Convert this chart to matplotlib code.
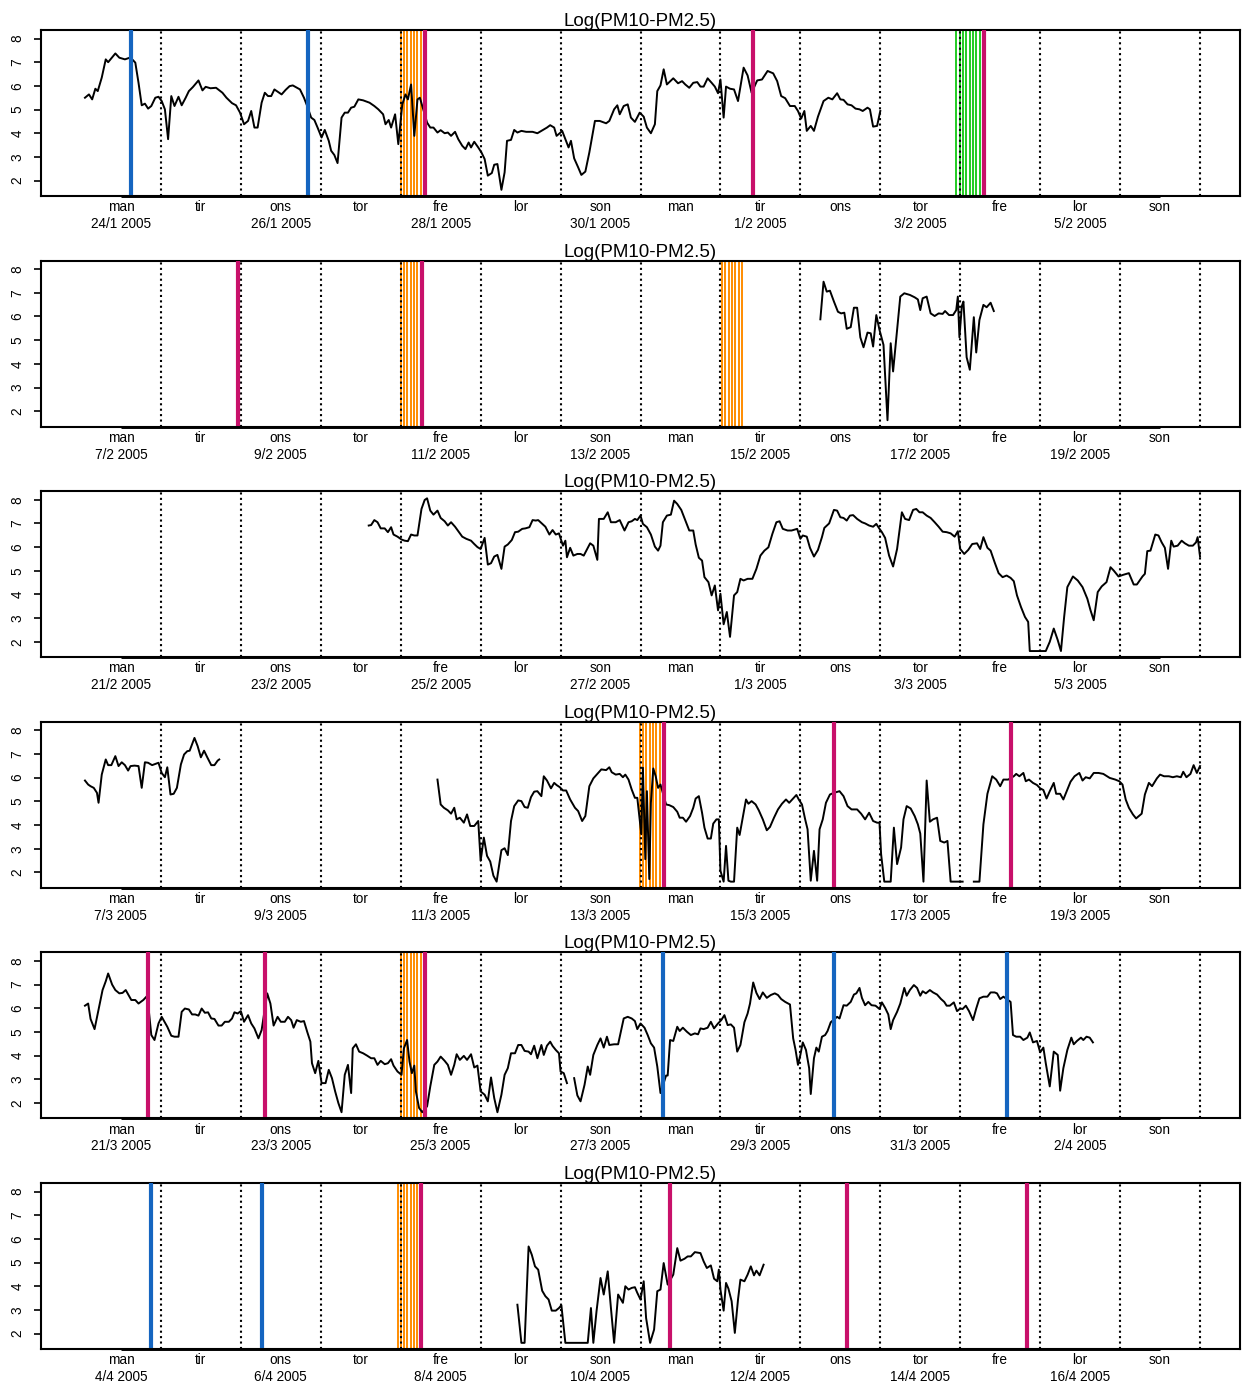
import numpy as np
import matplotlib
matplotlib.use('Agg')
import matplotlib.pyplot as plt

plt.rcParams['font.family'] = ['Liberation Sans', 'DejaVu Sans']

day_names = ['man', 'tir', 'ons', 'tor', 'fre', 'lor', 'son'] * 2
date_labels = [
    ['24/1 2005', '26/1 2005', '28/1 2005', '30/1 2005', '1/2 2005', '3/2 2005', '5/2 2005'],
    ['7/2 2005', '9/2 2005', '11/2 2005', '13/2 2005', '15/2 2005', '17/2 2005', '19/2 2005'],
    ['21/2 2005', '23/2 2005', '25/2 2005', '27/2 2005', '1/3 2005', '3/3 2005', '5/3 2005'],
    ['7/3 2005', '9/3 2005', '11/3 2005', '13/3 2005', '15/3 2005', '17/3 2005', '19/3 2005'],
    ['21/3 2005', '23/3 2005', '25/3 2005', '27/3 2005', '29/3 2005', '31/3 2005', '2/4 2005'],
    ['4/4 2005', '6/4 2005', '8/4 2005', '10/4 2005', '12/4 2005', '14/4 2005', '16/4 2005'],
]

# (day, log(PM10-PM2.5)); day k is labelled at x=k, midnight falls on k+0.5
# (None, None) marks a gap in the record
obs_24jan = [
    (0.55, 5.50), (0.60, 5.64), (0.64, 5.43), (0.68, 5.88), (0.71, 5.78), (0.76, 6.35), (0.81, 7.12),
    (0.84, 7.00), (0.93, 7.37), (0.98, 7.19), (1.05, 7.12), (1.11, 7.19), (1.15, 7.09), (1.18, 6.98),
    (1.22, 6.13), (1.26, 5.18), (1.30, 5.25), (1.34, 5.04), (1.38, 5.15), (1.43, 5.50), (1.47, 5.54),
    (1.51, 5.36), (1.55, 5.01), (1.59, 3.75), (1.63, 5.57), (1.67, 5.15), (1.72, 5.54), (1.76, 5.18),
    (1.81, 5.50), (1.85, 5.78), (1.90, 5.95), (1.97, 6.23), (2.02, 5.81), (2.06, 5.96), (2.12, 5.90),
    (2.19, 5.92), (2.27, 5.71), (2.32, 5.50), (2.39, 5.27), (2.44, 5.18), (2.49, 4.87), (2.54, 4.38),
    (2.59, 4.52), (2.63, 4.94), (2.67, 4.24), (2.71, 4.24), (2.76, 5.29), (2.80, 5.71), (2.84, 5.57),
    (2.88, 5.57), (2.92, 5.85), (3.01, 5.64), (3.06, 5.83), (3.11, 5.99), (3.15, 6.02), (3.24, 5.85),
    (3.29, 5.50), (3.33, 5.15), (3.38, 4.66), (3.42, 4.56), (3.46, 4.24), (3.51, 3.82), (3.55, 4.14),
    (3.60, 3.68), (3.63, 3.26), (3.67, 3.08), (3.71, 2.74), (3.76, 4.66), (3.80, 4.87), (3.84, 4.87),
    (3.88, 5.08), (3.92, 5.12), (3.97, 5.43), (4.03, 5.39), (4.11, 5.29), (4.17, 5.15), (4.22, 5.01),
    (4.28, 4.80), (4.31, 4.38), (4.35, 4.56), (4.38, 4.24), (4.43, 4.80), (4.47, 3.54), (4.52, 5.22),
    (4.56, 5.64), (4.59, 5.43), (4.63, 6.06), (4.67, 3.89), (4.71, 5.43), (4.74, 5.50), (4.83, 4.45),
    (4.87, 4.24), (4.91, 4.24), (4.96, 4.03), (5.00, 4.13), (5.05, 4.00), (5.09, 4.03), (5.13, 3.89),
    (5.18, 4.06), (5.22, 3.75), (5.27, 3.47), (5.31, 3.33), (5.35, 3.61), (5.38, 3.40), (5.42, 3.64),
    (5.47, 3.40), (5.51, 3.19), (5.55, 2.91), (5.59, 2.21), (5.64, 2.32), (5.67, 2.67), (5.71, 2.70),
    (5.76, 1.61), (5.80, 2.35), (5.83, 3.68), (5.88, 3.72), (5.92, 4.14), (5.96, 4.03), (6.01, 4.10),
    (6.07, 4.06), (6.15, 4.06), (6.21, 4.00), (6.28, 4.14), (6.33, 4.24), (6.37, 4.34), (6.42, 4.24),
    (6.45, 3.89), (6.49, 4.00), (6.52, 4.10), (6.56, 3.75), (6.60, 3.40), (6.63, 3.68), (6.67, 2.94),
    (6.72, 2.56), (6.76, 2.24), (6.81, 2.38), (6.86, 3.19), (6.93, 4.52), (6.99, 4.52), (7.07, 4.42),
    (7.11, 4.52), (7.17, 5.01), (7.21, 5.18), (7.24, 4.80), (7.29, 5.15), (7.34, 5.22), (7.38, 4.66),
    (7.43, 4.48), (7.49, 4.87), (7.54, 4.70), (7.58, 4.24), (7.63, 4.00), (7.68, 4.38), (7.71, 5.78),
    (7.75, 6.02), (7.79, 6.70), (7.83, 6.06), (7.91, 6.32), (7.97, 6.11), (8.02, 6.20), (8.06, 6.06),
    (8.11, 5.92), (8.16, 6.13), (8.21, 6.16), (8.25, 5.97), (8.29, 5.97), (8.34, 6.32), (8.39, 6.13),
    (8.43, 5.97), (8.47, 5.69), (8.50, 6.27), (8.54, 4.66), (8.57, 5.97), (8.62, 5.88), (8.67, 5.85),
    (8.72, 5.36), (8.79, 6.77), (8.84, 6.44), (8.89, 5.71), (8.96, 6.23), (9.02, 6.27), (9.09, 6.63),
    (9.16, 6.53), (9.21, 6.20), (9.26, 5.57), (9.31, 5.48), (9.37, 5.15), (9.43, 5.15), (9.47, 4.94),
    (9.51, 4.62), (9.55, 4.94), (9.58, 4.10), (9.63, 4.31), (9.67, 4.10), (9.72, 4.70), (9.79, 5.36),
    (9.85, 5.50), (9.90, 5.43), (9.96, 5.69), (10.00, 5.43), (10.04, 5.41), (10.09, 5.22), (10.14, 5.18),
    (10.19, 5.04), (10.24, 5.01), (10.28, 4.94), (10.34, 5.08), (10.37, 5.01), (10.41, 4.28),
    (10.46, 4.31), (10.50, 4.94),
]

obs_7feb = [
    (9.75, 5.88), (9.79, 7.47), (9.83, 7.05), (9.87, 7.09), (9.92, 6.63), (9.97, 6.20), (10.01, 6.13),
    (10.05, 6.16), (10.08, 5.48), (10.13, 5.55), (10.17, 6.37), (10.21, 6.37), (10.25, 5.12),
    (10.29, 4.70), (10.34, 5.32), (10.38, 5.29), (10.41, 4.73), (10.45, 6.06), (10.49, 5.43),
    (10.54, 4.80), (10.59, 1.62), (10.63, 4.87), (10.66, 3.68), (10.71, 5.43), (10.75, 6.84),
    (10.80, 6.98), (10.87, 6.91), (10.93, 6.81), (10.97, 6.72), (11.00, 6.27), (11.03, 6.77),
    (11.08, 6.84), (11.13, 6.13), (11.18, 6.02), (11.23, 6.13), (11.28, 6.11), (11.31, 6.23),
    (11.36, 6.06), (11.41, 6.06), (11.45, 6.27), (11.47, 6.84), (11.49, 5.12), (11.52, 6.44),
    (11.54, 6.63), (11.58, 4.28), (11.62, 3.75), (11.67, 5.97), (11.70, 4.48), (11.74, 5.85),
    (11.79, 6.49), (11.83, 6.39), (11.88, 6.58), (11.92, 6.23),
]

obs_21feb = [
    (4.10, 6.91), (4.13, 6.93), (4.17, 7.14), (4.21, 7.05), (4.25, 6.79), (4.30, 6.79), (4.34, 6.63),
    (4.38, 6.84), (4.41, 6.53), (4.46, 6.44), (4.51, 6.32), (4.55, 6.27), (4.59, 6.25), (4.63, 6.53),
    (4.67, 6.49), (4.71, 6.49), (4.76, 7.61), (4.80, 7.99), (4.83, 8.06), (4.87, 7.54), (4.91, 7.37),
    (4.96, 7.54), (5.00, 7.23), (5.05, 7.09), (5.09, 6.91), (5.13, 7.05), (5.18, 6.86), (5.23, 6.63),
    (5.27, 6.44), (5.32, 6.35), (5.38, 6.27), (5.42, 6.13), (5.46, 6.00), (5.50, 5.92), (5.55, 6.39),
    (5.59, 5.26), (5.63, 5.32), (5.67, 5.60), (5.71, 5.67), (5.76, 5.08), (5.80, 6.02), (5.84, 6.11),
    (5.89, 6.30), (5.93, 6.63), (5.97, 6.65), (6.02, 6.77), (6.06, 6.79), (6.11, 6.84), (6.15, 7.14),
    (6.19, 7.12), (6.22, 7.14), (6.28, 6.95), (6.31, 6.86), (6.36, 6.53), (6.40, 6.72), (6.44, 6.53),
    (6.48, 6.58), (6.53, 6.06), (6.56, 6.27), (6.58, 5.57), (6.62, 5.97), (6.66, 5.64), (6.71, 5.71),
    (6.75, 5.71), (6.79, 5.64), (6.84, 5.97), (6.87, 6.16), (6.91, 6.06), (6.96, 5.46), (6.98, 7.19),
    (7.04, 7.19), (7.09, 7.47), (7.13, 7.05), (7.19, 7.05), (7.24, 7.14), (7.30, 6.70), (7.35, 7.05),
    (7.39, 7.09), (7.43, 7.19), (7.46, 7.14), (7.50, 7.33), (7.53, 6.98), (7.58, 6.84), (7.63, 6.53),
    (7.68, 6.02), (7.72, 5.85), (7.75, 6.06), (7.78, 7.05), (7.83, 7.33), (7.88, 7.37), (7.92, 7.96),
    (7.96, 7.82), (8.01, 7.57), (8.06, 7.14), (8.11, 6.70), (8.16, 6.70), (8.19, 6.11), (8.23, 5.55),
    (8.27, 5.43), (8.30, 4.73), (8.35, 4.52), (8.39, 3.96), (8.43, 4.38), (8.47, 3.33), (8.50, 4.03),
    (8.54, 2.74), (8.58, 3.26), (8.62, 2.21), (8.67, 3.96), (8.71, 4.10), (8.75, 4.66), (8.79, 4.59),
    (8.84, 4.66), (8.90, 4.66), (8.95, 5.08), (9.00, 5.64), (9.05, 5.85), (9.10, 5.99), (9.15, 6.56),
    (9.20, 7.05), (9.24, 7.09), (9.28, 6.77), (9.34, 6.70), (9.39, 6.70), (9.46, 6.77), (9.50, 6.35),
    (9.53, 6.49), (9.58, 6.44), (9.62, 5.97), (9.67, 5.60), (9.72, 5.88), (9.77, 6.42), (9.80, 6.81),
    (9.86, 7.00), (9.92, 7.57), (9.96, 7.54), (10.00, 7.26), (10.04, 7.23), (10.08, 7.12),
    (10.12, 7.33), (10.16, 7.35), (10.21, 7.19), (10.27, 7.05), (10.31, 7.00), (10.36, 6.91),
    (10.41, 6.86), (10.45, 6.98), (10.49, 6.77), (10.52, 6.63), (10.56, 6.39), (10.61, 5.64),
    (10.66, 5.18), (10.71, 5.92), (10.77, 7.47), (10.81, 7.19), (10.86, 7.14), (10.91, 7.57),
    (10.95, 7.61), (10.99, 7.47), (11.03, 7.47), (11.08, 7.33), (11.13, 7.23), (11.18, 7.05),
    (11.23, 6.86), (11.28, 6.65), (11.33, 6.63), (11.38, 6.58), (11.43, 6.44), (11.47, 6.67),
    (11.50, 5.92), (11.55, 5.71), (11.60, 5.88), (11.65, 6.13), (11.71, 6.16), (11.75, 5.92),
    (11.79, 6.42), (11.84, 5.97), (11.88, 5.85), (11.93, 5.36), (11.98, 4.90), (12.03, 4.73),
    (12.08, 4.80), (12.13, 4.70), (12.17, 4.56), (12.21, 3.96), (12.26, 3.47), (12.31, 3.05),
    (12.35, 2.84), (12.37, 1.61), (12.57, 1.61), (12.62, 2.00), (12.67, 2.56), (12.72, 2.07),
    (12.76, 1.61), (12.80, 3.05), (12.84, 4.31), (12.91, 4.76), (12.97, 4.59), (13.03, 4.31),
    (13.09, 3.82), (13.13, 3.33), (13.17, 2.91), (13.22, 4.10), (13.27, 4.34), (13.33, 4.52),
    (13.38, 5.15), (13.42, 5.01), (13.48, 4.76), (13.54, 4.83), (13.61, 4.90), (13.67, 4.42),
    (13.71, 4.42), (13.78, 4.76), (13.81, 4.87), (13.84, 5.83), (13.88, 5.85), (13.94, 6.53),
    (13.98, 6.49), (14.02, 6.20), (14.06, 5.97), (14.10, 5.08), (14.14, 6.27), (14.17, 6.02),
    (14.22, 6.06), (14.27, 6.27), (14.31, 6.16), (14.36, 6.06), (14.41, 6.06), (14.45, 6.20),
    (14.47, 6.42), (14.50, 5.60),
]

obs_7mar = [
    (0.55, 5.88), (0.59, 5.71), (0.62, 5.64), (0.66, 5.57), (0.70, 5.36), (0.72, 4.94), (0.76, 6.13),
    (0.81, 6.77), (0.84, 6.53), (0.88, 6.53), (0.93, 6.91), (0.97, 6.49), (1.01, 6.65), (1.05, 6.53),
    (1.09, 6.30), (1.12, 6.49), (1.17, 6.51), (1.22, 6.49), (1.26, 5.57), (1.30, 6.65), (1.34, 6.63),
    (1.39, 6.53), (1.43, 6.58), (1.47, 6.63), (1.51, 6.20), (1.55, 6.02), (1.58, 6.44), (1.62, 5.29),
    (1.66, 5.32), (1.70, 5.57), (1.75, 6.56), (1.79, 6.98), (1.83, 7.12), (1.86, 7.14), (1.92, 7.68),
    (1.96, 7.33), (2.00, 6.86), (2.04, 7.14), (2.08, 6.86), (2.13, 6.53), (2.17, 6.53), (2.21, 6.72),
    (2.23, 6.77), (None, None),
    (4.96, 5.92), (5.00, 4.87), (5.04, 4.73), (5.09, 4.62), (5.13, 4.48), (5.17, 4.73), (5.20, 4.24),
    (5.24, 4.31), (5.29, 4.10), (5.33, 4.45), (5.37, 3.96), (5.42, 3.96), (5.47, 4.17), (5.50, 2.49),
    (5.54, 3.47), (5.58, 2.70), (5.62, 2.46), (5.66, 1.86), (5.70, 1.61), (5.76, 2.94), (5.80, 3.02),
    (5.84, 2.73), (5.88, 4.17), (5.92, 4.80), (5.97, 5.04), (6.01, 5.01), (6.05, 4.76), (6.09, 4.73),
    (6.13, 5.18), (6.17, 5.41), (6.21, 5.43), (6.26, 5.22), (6.29, 6.06), (6.33, 5.88), (6.38, 5.55),
    (6.42, 5.78), (6.45, 5.69), (6.49, 5.60), (6.53, 5.46), (6.57, 5.46), (6.62, 5.08), (6.68, 4.73),
    (6.72, 4.59), (6.77, 4.17), (6.81, 4.38), (6.86, 5.64), (6.91, 5.97), (6.96, 6.16), (7.01, 6.35),
    (7.07, 6.32), (7.11, 6.44), (7.14, 6.23), (7.19, 6.13), (7.24, 6.16), (7.28, 6.02), (7.31, 6.13),
    (7.35, 5.92), (7.39, 5.50), (7.43, 5.15), (7.46, 5.15), (7.49, 4.24), (7.51, 3.61), (7.53, 6.42),
    (7.56, 2.56), (7.58, 5.43), (7.61, 1.72), (7.63, 4.94), (7.66, 6.39), (7.69, 6.06), (7.72, 5.57),
    (7.75, 5.71), (7.82, 4.87), (7.86, 4.84), (7.91, 4.76), (7.96, 4.56), (7.99, 4.31), (8.03, 4.31),
    (8.07, 4.14), (8.12, 4.38), (8.16, 4.73), (8.19, 5.12), (8.23, 5.22), (8.27, 4.52), (8.30, 3.89),
    (8.34, 3.43), (8.38, 3.43), (8.41, 4.06), (8.45, 4.24), (8.48, 4.24), (8.50, 2.07), (8.54, 1.61),
    (8.57, 3.12), (8.60, 1.65), (8.63, 1.61), (8.67, 1.61), (8.71, 3.89), (8.74, 3.58), (8.78, 4.34),
    (8.82, 5.08), (8.85, 4.90), (8.89, 5.01), (8.94, 4.87), (8.98, 4.62), (9.03, 4.24), (9.08, 3.78),
    (9.12, 3.92), (9.17, 4.31), (9.22, 4.66), (9.27, 4.90), (9.32, 5.08), (9.36, 4.94), (9.41, 5.12),
    (9.45, 5.27), (9.48, 5.08), (9.52, 4.87), (9.56, 4.24), (9.59, 3.82), (9.63, 1.65), (9.67, 2.91),
    (9.71, 1.65), (9.74, 3.82), (9.78, 4.24), (9.82, 4.94), (9.87, 5.29), (9.92, 5.36), (9.99, 5.43),
    (10.04, 5.22), (10.09, 4.80), (10.14, 4.66), (10.21, 4.66), (10.26, 4.48), (10.31, 4.24),
    (10.36, 4.52), (10.41, 4.17), (10.46, 4.10), (10.49, 4.10), (10.51, 2.77), (10.55, 1.61),
    (10.63, 1.61), (10.67, 3.89), (10.71, 2.35), (10.76, 3.05), (10.79, 4.24), (10.83, 4.80),
    (10.88, 4.70), (10.93, 4.38), (10.97, 4.03), (11.00, 3.64), (11.04, 1.61), (11.08, 5.88),
    (11.12, 4.14), (11.16, 4.24), (11.21, 4.31), (11.25, 3.33), (11.30, 3.26), (11.34, 3.33),
    (11.38, 1.61), (11.53, 1.61), (None, None),
    (11.67, 1.61), (11.74, 1.61), (11.79, 4.03), (11.84, 5.32), (11.90, 6.06), (11.95, 5.92),
    (12.00, 5.64), (12.04, 5.92), (12.10, 5.92), (12.17, 6.06), (12.20, 6.16), (12.24, 6.06),
    (12.29, 6.20), (12.32, 5.85), (12.36, 5.92), (12.41, 5.78), (12.46, 5.69), (12.50, 5.55),
    (12.54, 5.48), (12.58, 5.12), (12.62, 5.43), (12.67, 5.78), (12.70, 5.32), (12.75, 5.32),
    (12.79, 5.08), (12.84, 5.50), (12.88, 5.83), (12.93, 6.06), (12.99, 6.20), (13.03, 5.88),
    (13.07, 6.02), (13.12, 5.97), (13.17, 6.20), (13.23, 6.20), (13.29, 6.16), (13.37, 5.99),
    (13.44, 5.92), (13.49, 5.85), (13.53, 5.71), (13.57, 5.08), (13.61, 4.73), (13.66, 4.45),
    (13.70, 4.28), (13.77, 4.48), (13.81, 5.29), (13.86, 5.78), (13.90, 5.64), (13.96, 5.97),
    (14.00, 6.13), (14.05, 6.06), (14.11, 6.06), (14.16, 6.02), (14.21, 6.06), (14.26, 6.02),
    (14.29, 6.25), (14.33, 6.02), (14.38, 6.16), (14.42, 6.53), (14.46, 6.20), (14.50, 6.49),
]

obs_21mar = [
    (0.55, 6.11), (0.59, 6.20), (0.62, 5.55), (0.67, 5.12), (0.71, 5.78), (0.77, 6.77), (0.81, 7.14),
    (0.84, 7.47), (0.89, 7.00), (0.93, 6.77), (0.98, 6.63), (1.02, 6.65), (1.06, 6.77), (1.10, 6.53),
    (1.13, 6.35), (1.18, 6.35), (1.22, 6.20), (1.28, 6.35), (1.33, 6.53), (1.38, 4.87), (1.42, 4.66),
    (1.47, 5.36), (1.51, 5.64), (1.54, 5.46), (1.58, 5.22), (1.63, 4.84), (1.67, 4.80), (1.72, 4.80),
    (1.76, 5.85), (1.80, 5.99), (1.85, 5.95), (1.89, 5.74), (1.93, 5.74), (1.97, 5.69), (2.01, 5.99),
    (2.05, 5.81), (2.09, 5.83), (2.13, 5.57), (2.17, 5.55), (2.22, 5.27), (2.26, 5.27), (2.30, 5.43),
    (2.35, 5.43), (2.39, 5.57), (2.42, 5.83), (2.46, 5.78), (2.50, 5.88), (2.54, 5.43), (2.59, 5.71),
    (2.63, 5.36), (2.67, 5.15), (2.72, 4.73), (2.76, 5.08), (2.83, 6.63), (2.87, 6.20), (2.91, 5.27),
    (2.96, 5.64), (3.00, 5.43), (3.05, 5.43), (3.09, 5.64), (3.13, 5.50), (3.16, 5.18), (3.20, 5.50),
    (3.25, 5.43), (3.29, 5.46), (3.33, 5.01), (3.37, 4.59), (3.39, 3.68), (3.43, 3.26), (3.47, 3.78),
    (3.51, 2.84), (3.56, 2.84), (3.60, 3.40), (3.64, 3.05), (3.68, 2.49), (3.72, 2.00), (3.76, 1.61),
    (3.80, 3.19), (3.84, 3.61), (3.88, 2.42), (3.90, 4.31), (3.94, 4.48), (3.98, 4.17), (4.03, 4.10),
    (4.08, 4.00), (4.13, 3.89), (4.17, 3.89), (4.21, 3.61), (4.25, 3.78), (4.30, 3.64), (4.34, 3.68),
    (4.38, 3.85), (4.41, 3.58), (4.46, 3.33), (4.51, 3.19), (4.54, 4.31), (4.58, 4.66), (4.61, 3.75),
    (4.64, 3.26), (4.67, 3.58), (4.69, 2.49), (4.73, 1.79), (4.77, 1.61), (4.83, 1.86), (4.87, 2.70),
    (4.92, 3.61), (4.96, 3.75), (5.00, 3.96), (5.05, 3.78), (5.09, 3.61), (5.13, 3.19), (5.17, 3.61),
    (5.20, 4.06), (5.24, 3.82), (5.29, 3.99), (5.33, 3.82), (5.38, 4.06), (5.42, 3.50), (5.46, 3.58),
    (5.50, 2.49), (5.55, 2.35), (5.59, 2.07), (5.63, 3.08), (5.67, 2.21), (5.71, 1.61), (5.76, 2.35),
    (5.80, 3.19), (5.84, 3.47), (5.88, 4.10), (5.93, 4.10), (5.97, 4.45), (6.01, 4.45), (6.05, 4.20),
    (6.10, 4.17), (6.13, 4.06), (6.17, 4.42), (6.21, 3.89), (6.26, 4.45), (6.29, 4.03), (6.33, 4.42),
    (6.37, 4.59), (6.40, 4.41), (6.44, 4.24), (6.48, 4.10), (6.50, 3.33), (6.54, 3.26), (6.58, 2.84),
    (None, None),
    (6.67, 3.05), (6.71, 2.32), (6.75, 2.07), (6.80, 2.77), (6.84, 3.54), (6.87, 3.19), (6.91, 4.03),
    (6.96, 4.45), (7.00, 4.73), (7.04, 4.34), (7.08, 4.80), (7.11, 4.45), (7.17, 4.48), (7.22, 4.48),
    (7.29, 5.57), (7.34, 5.64), (7.39, 5.57), (7.43, 5.46), (7.46, 5.12), (7.50, 5.36), (7.55, 5.18),
    (7.59, 4.87), (7.63, 4.52), (7.67, 4.34), (7.71, 3.54), (7.75, 2.42), (7.82, 3.16), (7.84, 3.16),
    (7.87, 4.66), (7.91, 4.62), (7.96, 5.22), (7.99, 5.04), (8.03, 5.18), (8.08, 5.01), (8.13, 4.87),
    (8.18, 4.94), (8.22, 4.90), (8.25, 5.15), (8.29, 5.12), (8.34, 5.18), (8.38, 5.43), (8.42, 5.15),
    (8.47, 5.36), (8.51, 5.50), (8.55, 5.71), (8.59, 5.29), (8.63, 5.32), (8.67, 5.18), (8.71, 4.17),
    (8.75, 4.45), (8.80, 5.41), (8.84, 5.78), (8.87, 6.20), (8.91, 7.09), (8.95, 6.65), (8.99, 6.39),
    (9.03, 6.67), (9.08, 6.44), (9.13, 6.56), (9.18, 6.63), (9.22, 6.56), (9.26, 6.39), (9.31, 6.27),
    (9.37, 6.16), (9.41, 4.73), (9.44, 4.24), (9.47, 3.61), (9.50, 4.03), (9.53, 4.56), (9.57, 4.24),
    (9.61, 3.47), (9.63, 2.38), (9.67, 3.89), (9.70, 4.34), (9.73, 4.17), (9.77, 4.80), (9.81, 4.87),
    (9.84, 5.04), (9.88, 5.41), (9.96, 5.64), (9.99, 5.57), (10.04, 6.13), (10.08, 6.11),
    (10.13, 6.27), (10.17, 6.58), (10.20, 6.63), (10.24, 6.86), (10.27, 6.44), (10.31, 6.13),
    (10.35, 6.27), (10.39, 6.13), (10.44, 6.11), (10.49, 5.97), (10.52, 6.25), (10.56, 6.02),
    (10.60, 5.74), (10.63, 5.12), (10.66, 5.50), (10.71, 5.85), (10.75, 6.20), (10.80, 6.86),
    (10.83, 6.53), (10.87, 6.77), (10.92, 6.98), (10.96, 6.86), (11.00, 6.53), (11.03, 6.72),
    (11.07, 6.63), (11.12, 6.77), (11.16, 6.67), (11.21, 6.58), (11.26, 6.39), (11.30, 6.27),
    (11.33, 6.11), (11.37, 6.11), (11.42, 6.25), (11.46, 5.88), (11.50, 5.99), (11.53, 5.97),
    (11.57, 6.11), (11.61, 5.88), (11.66, 5.50), (11.70, 5.99), (11.74, 6.42), (11.79, 6.49),
    (11.84, 6.49), (11.88, 6.67), (11.93, 6.67), (11.96, 6.63), (12.00, 6.39), (12.04, 6.49),
    (12.13, 6.27), (12.16, 4.87), (12.20, 4.80), (12.25, 4.80), (12.29, 4.66), (12.34, 4.76),
    (12.37, 4.98), (12.41, 4.56), (12.46, 4.62), (12.50, 4.14), (12.54, 4.34), (12.57, 3.68),
    (12.62, 2.70), (12.67, 4.17), (12.72, 4.03), (12.75, 2.52), (12.79, 3.47), (12.84, 4.24),
    (12.89, 4.76), (12.92, 4.48), (12.96, 4.62), (13.01, 4.76), (13.04, 4.66), (13.08, 4.80),
    (13.12, 4.76), (13.16, 4.56),
]

obs_4apr = [
    (5.96, 3.22), (6.01, 1.61), (6.05, 1.61), (6.10, 5.68), (6.14, 5.33), (6.18, 4.84), (6.22, 4.70),
    (6.27, 3.81), (6.31, 3.58), (6.35, 3.44), (6.39, 2.97), (6.44, 2.97), (6.48, 3.08), (6.51, 3.20),
    (6.56, 1.61), (6.84, 1.61), (6.88, 3.08), (6.91, 1.61), (6.95, 2.95), (7.00, 4.35), (7.04, 3.65),
    (7.09, 4.63), (7.13, 3.08), (7.17, 1.61), (7.22, 3.65), (7.28, 3.30), (7.31, 4.00), (7.35, 3.86),
    (7.39, 3.93), (7.43, 3.96), (7.46, 3.72), (7.50, 3.44), (7.54, 4.21), (7.57, 2.66), (7.62, 1.61),
    (7.67, 2.17), (7.71, 3.79), (7.75, 3.86), (7.79, 4.98), (7.84, 4.07), (7.91, 4.49), (7.96, 5.61),
    (8.00, 5.08), (8.05, 5.16), (8.09, 5.26), (8.13, 5.26), (8.18, 5.44), (8.25, 5.40), (8.29, 5.05),
    (8.33, 4.77), (8.38, 4.88), (8.42, 4.32), (8.46, 4.21), (8.48, 4.70), (8.50, 3.86), (8.54, 2.97),
    (8.57, 4.14), (8.60, 3.90), (8.64, 3.37), (8.68, 2.03), (8.72, 3.44), (8.75, 4.28), (8.80, 4.21),
    (8.84, 4.49), (8.88, 4.84), (8.92, 4.46), (8.95, 4.66), (8.99, 4.46), (9.04, 4.91),
]

series = [obs_24jan, obs_7feb, obs_21feb, obs_7mar, obs_21mar, obs_4apr]

# single event markers
blue_marks = [[1.125, 3.34], [], [], [], [7.78, 9.92, 12.08], [1.38, 2.76]]
red_marks = [[4.80, 8.91, 11.80], [2.46, 4.77], [], [7.79, 9.92, 12.13],
             [1.34, 2.80, 4.81], [4.76, 7.87, 10.08, 12.33]]
# episodes drawn as one line per hour between start and end
orange_spans = [[(4.50, 4.79)], [(4.50, 4.79), (8.52, 8.80)], [], [(7.49, 7.76)],
                [(4.50, 4.77)], [(4.46, 4.74)]]
green_spans = [[(11.45, 11.78)], [], [], [], [], []]

W, H = 1242, 1385
ylo, yhi = 1.35, 8.36
fig = plt.figure(figsize=(W / 100, H / 100), dpi=100)

for i in range(6):
    top = 30 + i * 230.6
    ax = fig.add_axes([41 / W, 1 - (top + 166) / H, 1199 / W, 166 / H])
    ax.set_xlim(0, 15)
    ax.set_ylim(ylo, yhi)

    for a, b in orange_spans[i]:
        for h in np.arange(a, b + 1e-6, 1 / 24):
            ax.axvline(h, color='#ff8c00', lw=1.4, zorder=1)
    for a, b in green_spans[i]:
        for h in np.arange(a, b + 1e-6, 1 / 24):
            ax.axvline(h, color='#22cc22', lw=1.4, zorder=1)

    for d in np.arange(1.5, 15, 1.0):
        ax.axvline(d, color='black', lw=1.5, ls=(0, (1, 1.6)), zorder=2)

    pts = np.array(series[i], dtype=float)
    ax.plot(pts[:, 0], pts[:, 1], color='black', lw=1.4, zorder=3)

    for x in blue_marks[i]:
        ax.axvline(x, color='#1565c0', lw=3, zorder=4)
    for x in red_marks[i]:
        ax.axvline(x, color='#c8106a', lw=3, zorder=4)

    labels = []
    for k in range(14):
        if k % 2 == 0:
            labels.append(day_names[k] + '\n' + date_labels[i][k // 2])
        else:
            labels.append(day_names[k])
    ax.set_xticks(range(1, 15))
    ax.set_xticklabels(labels, fontsize=9.8, linespacing=1.25)
    ax.tick_params(axis='x', length=0, pad=3)

    ax.set_yticks(range(2, 9))
    ax.set_yticklabels([str(v) for v in range(2, 9)], fontsize=9.8, rotation=90, va='center')
    ax.tick_params(axis='y', length=5, width=1.2, pad=7)

    for s in ax.spines.values():
        s.set_linewidth(1.5)
    # axis line between first and last tick
    ax.plot([1, 14], [ylo, ylo], color='black', lw=2.1, clip_on=False,
            solid_capstyle='butt', zorder=6)

    ax.set_title('Log(PM10-PM2.5)', fontsize=13.5, pad=2)

fig.savefig('out.png', dpi=100)
